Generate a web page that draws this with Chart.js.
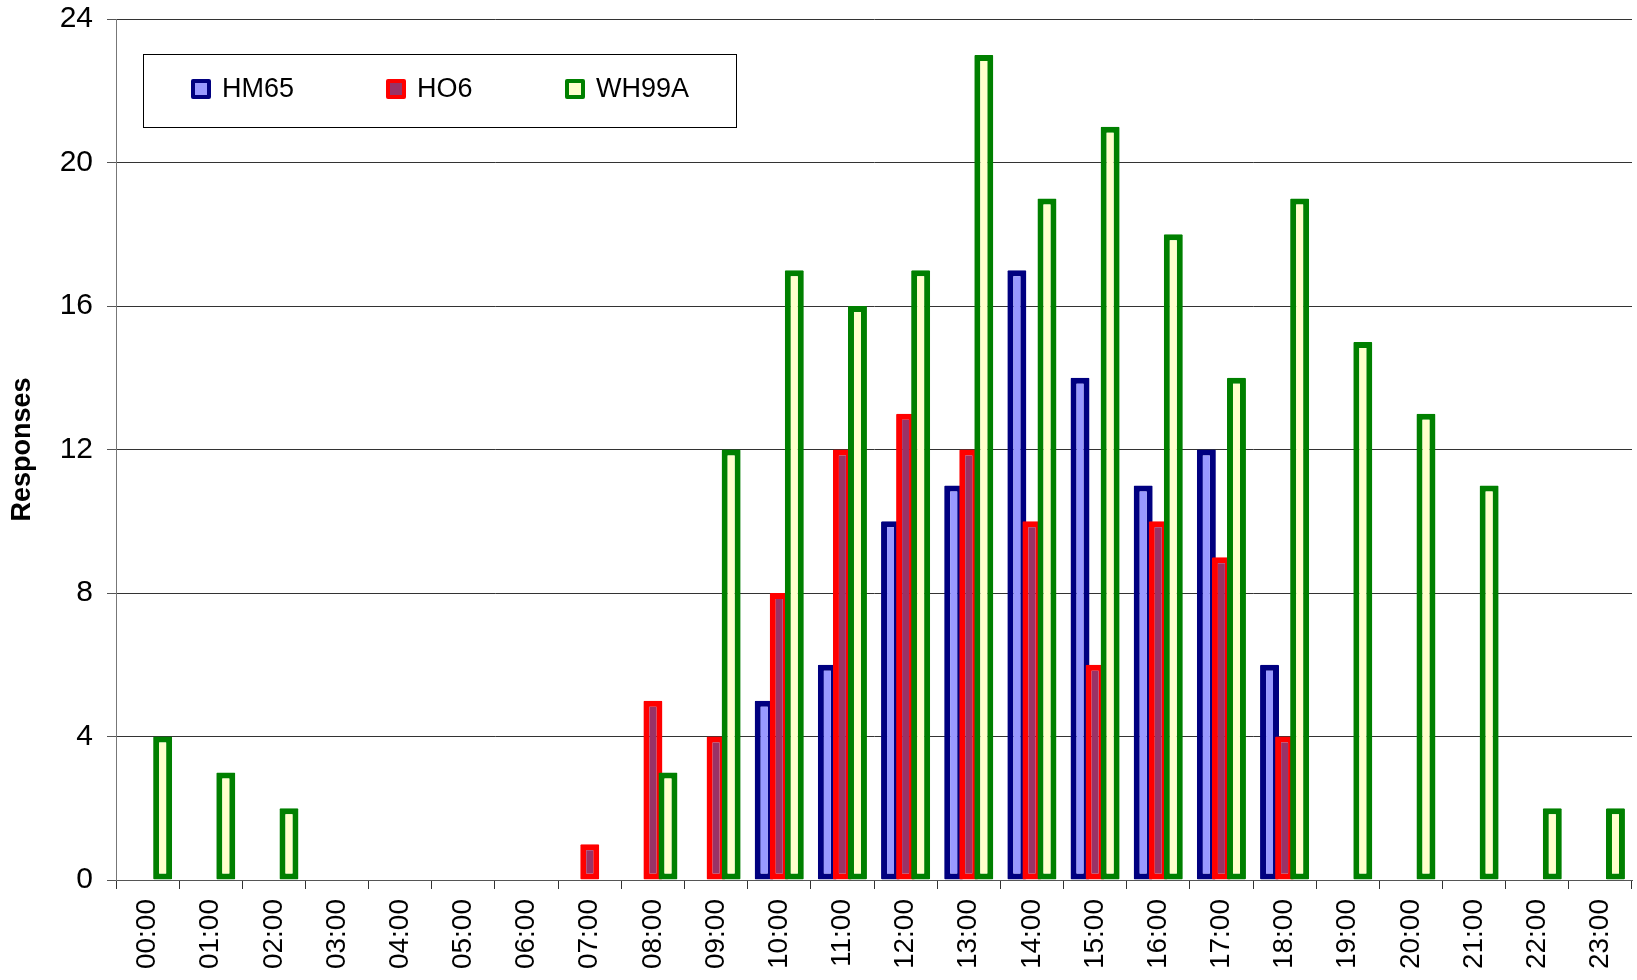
<!DOCTYPE html>
<html>
<head>
<meta charset="utf-8">
<script src="https://cdn.jsdelivr.net/npm/chart.js@4.4.1/dist/chart.umd.min.js"></script>
<style>
  html, body { margin: 0; padding: 0; background: #ffffff; }
  #wrap { width: 1637px; height: 980px; position: relative; }
</style>
</head>
<body>
<div id="wrap"><canvas id="c" width="1637" height="980"></canvas></div>
<script>
const categories = ["00:00","01:00","02:00","03:00","04:00","05:00","06:00","07:00","08:00","09:00","10:00","11:00",
                    "12:00","13:00","14:00","15:00","16:00","17:00","18:00","19:00","20:00","21:00","22:00","23:00"];
const seriesNames = ["HM65", "HO6", "WH99A"];
const hm65  = [0,0,0,0,0,0,0,0,0,0, 5, 6,10,11,17,14,11,12, 6, 0, 0, 0,0,0];
const ho6   = [0,0,0,0,0,0,0,1,5,4, 8,12,13,12,10, 6,10, 9, 4, 0, 0, 0,0,0];
const wh99a = [4,3,2,0,0,0,0,0,3,12,17,16,17,23,19,21,18,14,19,15,13,11,2,2];
const yTicks = [0, 4, 8, 12, 16, 20, 24];
const yTitle = "Responses";

const fills   = ["#9999FF", "#993366", "#FFFFCC"];
const borders = ["#000080", "#FF0000", "#008000"];
const FONT = "'Liberation Sans', Arial, sans-serif";

// draw datasets in index order so later series overlap earlier ones
const drawOrder = {
  id: 'drawOrder',
  beforeDatasetDraw() { return false; },
  afterDatasetsDraw(chart) {
    for (let i = 0; i < chart.data.datasets.length; i++) {
      const meta = chart.getDatasetMeta(i);
      if (meta.visible) meta.controller.draw();
    }
  }
};

const legendBox = {
  id: 'legendBox',
  afterDraw(chart) {
    const ctx = chart.ctx;
    ctx.save();
    ctx.strokeStyle = '#000000';
    ctx.lineWidth = 1;
    ctx.fillStyle = '#ffffff';
    ctx.fillRect(143.5, 54.5, 593, 73);
    ctx.strokeRect(143.5, 54.5, 593, 73);
    const xs = [191, 386, 565];
    const cy = 89;
    chart.data.datasets.forEach((ds, i) => {
      const x = xs[i];
      ctx.fillStyle = ds.borderColor;
      ctx.beginPath();
      ctx.roundRect(x, cy - 10, 20, 20, 2);
      ctx.fill();
      ctx.fillStyle = ds.backgroundColor;
      ctx.fillRect(x + 4, cy - 6, 12, 12);
      ctx.fillStyle = '#000000';
      ctx.font = "27px " + FONT;
      ctx.textBaseline = 'middle';
      ctx.textAlign = 'left';
      ctx.fillText(ds.label, x + 31, cy + 1);
    });
    ctx.restore();
  }
};

const datasets = [hm65, ho6, wh99a].map((vals, i) => ({
  label: seriesNames[i],
  data: vals,
  backgroundColor: fills[i],
  borderColor: borders[i],
  borderWidth: 6,
  borderSkipped: false,
  borderRadius: 1,
  categoryPercentage: 0.715,
  barPercentage: 1.26
}));

new Chart(document.getElementById('c'), {
  type: 'bar',
  data: { labels: categories, datasets: datasets },
  options: {
    responsive: false,
    animation: false,
    devicePixelRatio: 1,
    layout: { autoPadding: false, padding: { top: 19, right: 5, bottom: 0, left: 0 } },
    plugins: {
      legend: { display: false },
      tooltip: { enabled: false },
      title: { display: false }
    },
    scales: {
      x: {
        offset: true,
        grid: {
          offset: true,
          drawOnChartArea: false,
          drawTicks: true,
          tickLength: 9,
          color: '#333333',
          lineWidth: 1
        },
        border: { display: true, color: '#555555', width: 1 },
        ticks: {
          minRotation: 90,
          maxRotation: 90,
          autoSkip: false,
          padding: 10,
          color: '#000000',
          font: { family: FONT, size: 28 }
        },
        afterFit(scale) {
          scale.height = 100;
          scale.paddingLeft = 0; scale.paddingRight = 0;
          scale.paddingTop = 0; scale.paddingBottom = 0;
        }
      },
      y: {
        min: 0,
        max: 24,
        afterBuildTicks(scale) { scale.ticks = yTicks.map(v => ({ value: v })); },
        grid: {
          color: '#333333',
          lineWidth: 1,
          drawTicks: true,
          tickLength: 9,
          tickColor: '#555555'
        },
        border: { display: true, color: '#777777', width: 1 },
        ticks: {
          padding: 14,
          color: '#000000',
          font: { family: FONT, size: 30 }
        },
        title: {
          display: true,
          text: yTitle,
          color: '#000000',
          padding: { top: 6, bottom: 0 },
          font: { family: FONT, size: 27, weight: 'bold' }
        },
        afterFit(scale) {
          scale.width = 116;
          scale.paddingLeft = 0; scale.paddingRight = 0;
          scale.paddingTop = 0; scale.paddingBottom = 0;
        }
      }
    }
  },
  plugins: [drawOrder, legendBox]
});
</script>
</body>
</html>
